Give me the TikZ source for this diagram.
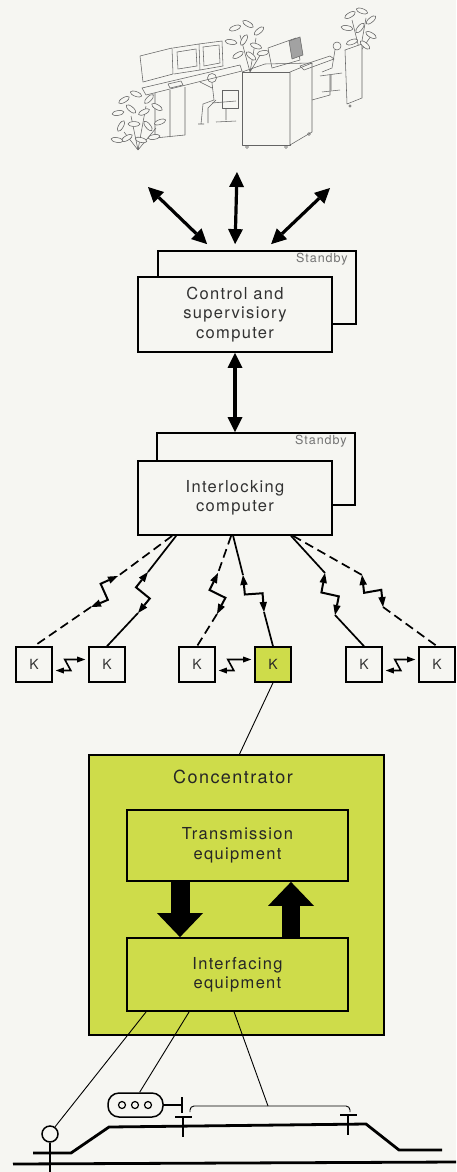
\documentclass[tikz,border=0pt]{standalone}
\usepackage{fontspec}
\setmainfont{TeX Gyre Heros}[LetterSpace=8]
\usetikzlibrary{arrows.meta,calc}
\definecolor{paperbg}{RGB}{246,246,242}
\definecolor{concgreen}{RGB}{206,220,74}
\definecolor{labelink}{RGB}{50,50,50}
\definecolor{sketchink}{RGB}{100,100,100}

% zig-zag radio link with a head at each end
\newcommand{\bolt}[2]{%
  \draw[boltarrow] (#1) -- ($(#1)!0.42!(#2)!8pt!-90:(#2)$)
    -- ($(#1)!0.6!(#2)!8pt!90:(#2)$) -- (#2);}

\begin{document}
\begin{tikzpicture}[x=1pt,y=-1pt,
  font=\fontsize{16.5}{19.5}\selectfont,
  compbox/.style={draw, line width=1.8pt, fill=paperbg, text=labelink,
                  align=center, inner sep=0pt},
  greenbox/.style={compbox, fill=concgreen, text=black!85},
  kbox/.style={draw, line width=1.6pt, fill=paperbg, text=labelink,
               minimum width=36pt, minimum height=35pt, inner sep=0pt,
               font=\fontsize{14}{14}\selectfont},
  standbytext/.style={text=black!55, inner sep=0pt,
                      font=\fontsize{12.5}{13}\selectfont},
  duplex/.style={line width=3.2pt,
    {Triangle[length=15pt,width=15pt,line width=0pt]}-{Triangle[length=15pt,width=15pt,line width=0pt]}},
  boltarrow/.style={line width=2pt, line join=miter,
    {Triangle[length=10pt,width=7.5pt,line width=0pt]}-{Triangle[length=10pt,width=7.5pt,line width=0pt]}},
  kbolt/.style={line width=1.6pt,
    {Triangle[length=8pt,width=6pt,line width=0pt]}-{Triangle[length=8pt,width=6pt,line width=0pt]}},
  radio/.style={line width=1.7pt},
  radiodash/.style={radio, dash pattern=on 9pt off 5pt},
  wire/.style={line width=0.9pt},
  bigflow/.style={line width=19pt, -{Triangle[length=24pt,width=46pt,line width=0pt]}},
  track/.style={line width=2.8pt},
  trackgear/.style={line width=1.5pt},
  sketch/.style={draw=sketchink, line width=0.55pt, line join=round},
]
\useasboundingbox (0,0) rectangle (456,1172);
\fill[paperbg] (0,0) rectangle (456,1172);

%% control room
\draw[sketch] (138,150) -- (131,116) (138,150) -- (146,106) (138,150) -- (124,132)
  (138,150) -- (156,128) (250,72) -- (240,35) (250,72) -- (256,38) (250,72) -- (262,52)
  (360,52) -- (352,20) (360,52) -- (366,18) (360,52) -- (371,36);
\draw[sketch] (140,56) -- (172,48) -- (173,74) -- (143,82) -- cycle;
\draw[sketch] (173,48) -- (199,44) -- (200,70) -- (174,74);
\draw[sketch] (177,52) -- (196,49) -- (197,66) -- (178,69) -- cycle;
\draw[sketch] (199,44) -- (222,41) -- (223,66) -- (200,70);
\draw[sketch] (203,47) -- (219,45) -- (220,63) -- (204,66) -- cycle;
\draw[sketch] (142,88) -- (240,65) -- (242,71) -- (146,95) -- cycle;
\draw[sketch] (168,84) -- (181,81) -- (183,85) -- (170,88) -- cycle;
\draw[sketch] (155,93) -- (155,138) -- (185,135) -- (185,87) (170,90) -- (170,137);
% seated operator, left desk
\draw[sketch, fill=paperbg] (222,90) rectangle (238,108);
\draw[sketch] (212,103) -- (236,101) (226,108) -- (226,120) (216,122) -- (236,121);
\draw[sketch] (212,78) circle (4.5);
\draw[sketch] (212,83) -- (214,100) -- (203,104) -- (201,124) (212,88) -- (200,82)
  (216,100) -- (208,108) -- (208,123) (198,124) -- (204,124);
% cabinet
\draw[sketch, fill=paperbg] (242,72) rectangle (290,145);
\draw[sketch, fill=paperbg] (290,72) -- (312,63) -- (312,132) -- (290,145) -- cycle;
\draw[sketch] (242,72) -- (265,64) -- (312,63);
\draw[sketch] (247,147) circle (1.5) (286,147) circle (1.5) (309,134) circle (1.5);
% right console and operator
\draw[sketch] (268,48) -- (296,38) -- (300,60) -- (272,68) -- cycle;
\draw[sketch, fill=sketchink!60] (289,41) -- (300,37) -- (303,55) -- (292,59) -- cycle;
\draw[sketch] (300,66) -- (330,56) -- (334,59) -- (304,70) -- cycle;
\draw[sketch] (312,100) -- (330,95) -- (330,75);
\draw[sketch] (337,46) circle (4) (335,50) -- (332,68) -- (322,72)
  (320,76) -- (342,73) (331,75) -- (331,90) (322,92) -- (340,90);
\draw[sketch, fill=paperbg] (345,50) -- (362,44) -- (362,98) -- (347,104) -- cycle;
\draw[sketch] (350,106) circle (1.3);
% plants
\foreach \x/\y/\a in {124/100/30,136/94/-20,149/99/45,118/113/10,131/109/-40,
    144/112/25,157/107/-30,121/126/60,134/124/0,148/126/-50,160/122/20,
    127/138/30,141/140/-15,154/137/10,117/140/-10,
    235/28/20,248/24/-30,259/31/40,231/42/-10,244/40/60,256/46/-20,
    238/55/30,251/56/-40,263/53/10,
    350/15/30,362/11/-20,371/20/40,347/28/-10,360/28/50,371/35/-30,
    352/42/20,365/45/-40}
  \draw[sketch, fill=paperbg, rotate around={\a:(\x,\y)}] (\x,\y) ellipse (6 and 2.4);

%% computers
\node[compbox, minimum width=198pt, minimum height=73pt] (csb) at (257,287.5) {};
\node[standbytext, anchor=north east] at ($(csb.north east)+(-9,3)$) {Standby};
\node[compbox, minimum width=194pt, minimum height=75pt] (cs) at (235,314.5)
  {Control and\\supervisiory\\computer};
\node[compbox, minimum width=198pt, minimum height=72pt] (ilb) at (256,469) {};
\node[standbytext, anchor=north east] at ($(ilb.north east)+(-9,3)$) {Standby};
\node[compbox, minimum width=194pt, minimum height=74pt] (il) at (235,498)
  {Interlocking\\computer};

\coordinate (view1) at (148,187);
\coordinate (view2) at (237,172);
\coordinate (view3) at (330,188);
\draw[duplex] (view1) -- ($(csb.north west)+(50,-6)$);
\draw[duplex] (view2) -- ($(csb.north west)+(78,-6)$);
\draw[duplex] (view3) -- ($(csb.north west)+(114,-6)$);
\draw[duplex] (cs.south) -- (cs.south |- ilb.north);

%% track-side radio stations
\node[kbox] (k1) at (34,664.5) {K};
\node[kbox] (k2) at (107,664.5) {K};
\node[kbox] (k3) at (197,664.5) {K};
\node[kbox, fill=concgreen, text=black!85] (k4) at (273,664.5) {K};
\node[kbox] (k5) at (364,664.5) {K};
\node[kbox] (k6) at (437,664.5) {K};

\foreach \n/\dx in {1/35,2/39,3/94,4/96,5/154,6/156}
  \coordinate (out\n) at ($(il.south west)+(\dx,0)$);
\coordinate (a1) at (118,576); \coordinate (b1) at (91,607);
\coordinate (a2) at (148,572); \coordinate (b2) at (138,613);
\coordinate (a3) at (218,573); \coordinate (b3) at (217,614);
\coordinate (a4) at (243,575); \coordinate (b4) at (264,612);
\coordinate (a5) at (325,573); \coordinate (b5) at (335,615);
\coordinate (a6) at (362,575); \coordinate (b6) at (383,607);

\draw[radiodash] (out1) -- (a1) (b1) -- (k1.north);
\draw[radio] (out2) -- (a2) (b2) -- (k2.north);
\draw[radiodash] (out3) -- (a3) (b3) -- (k3.north);
\draw[radio] (out4) -- (a4) (b4) -- (k4.north);
\draw[radio] (out5) -- (a5) (b5) -- (k5.north);
\draw[radiodash] (out6) -- (a6) (b6) -- (k6.north);
\foreach \n in {1,...,6} {\bolt{a\n}{b\n}}

\draw[kbolt] ($(k1.east)+(3,6)$) -- ++(15,0) -- ++(-6,-11) -- ($(k2.west)+(-3,-5)$);
\draw[kbolt] ($(k3.east)+(3,6)$) -- ++(15,0) -- ++(-6,-11) -- ($(k4.west)+(-3,-5)$);
\draw[kbolt] ($(k5.east)+(3,6)$) -- ++(15,0) -- ++(-6,-11) -- ($(k6.west)+(-3,-5)$);

%% concentrator
\node[greenbox, minimum width=295pt, minimum height=280pt] (conc) at (236.5,895) {};
\node[text=black!85, font=\fontsize{18}{18}\selectfont] (conctitle) at (233,777)
  {Concentrator};
\node[greenbox, minimum width=221pt, minimum height=71pt] (trans) at (237.5,845.5)
  {Transmission\\equipment};
\node[greenbox, minimum width=221pt, minimum height=73pt] (intf) at (237.5,974.5)
  {Interfacing\\equipment};
\draw[wire] (k4.south) -- ($(conc.north)+(3,0)$);

\coordinate (dnx) at (180,0);
\coordinate (upx) at (291,0);
\draw[bigflow] (trans.south -| dnx) -- (intf.north -| dnx);
\draw[bigflow, line width=18pt] (intf.north -| upx) -- (trans.south -| upx);

%% track layout
\node[draw, circle, trackgear, minimum size=16pt, inner sep=0pt] (hsig) at (50,1134) {};
\node[draw, trackgear, rounded corners=11pt, minimum width=55pt, minimum height=24pt,
      inner sep=0pt] (lsig) at (135.5,1105) {};
\foreach \x in {122,135,148}
  \draw[line width=1.2pt] (\x,1105) circle (3.5);
\coordinate (tc) at (268,1106);

\draw[track] (13,1164) -- (456,1162);
\draw[track] (33,1153) -- (71,1153) -- (109,1127) -- (366,1124) -- (399,1150) -- (442,1150);
\draw[trackgear] (hsig.south) -- (50,1172);
\draw[trackgear] (lsig.east) -- (182,1105) (182,1097) -- (182,1113);
\draw[trackgear] (175,1117) -- (192,1117) (183,1117) -- (183,1137);
\draw[trackgear] (340,1115) -- (357,1115) (348,1115) -- (348,1135);
\draw[wire, rounded corners=4pt] (190,1112) -- (190,1106) -- (350,1106) -- (350,1112);

\draw[wire] ($(intf.south west)+(20,0)$) -- (hsig.55);
\draw[wire] ($(intf.south west)+(63,0)$) -- (lsig.72);
\draw[wire] ($(intf.south west)+(108,0)$) -- (tc);
\end{tikzpicture}
\end{document}
